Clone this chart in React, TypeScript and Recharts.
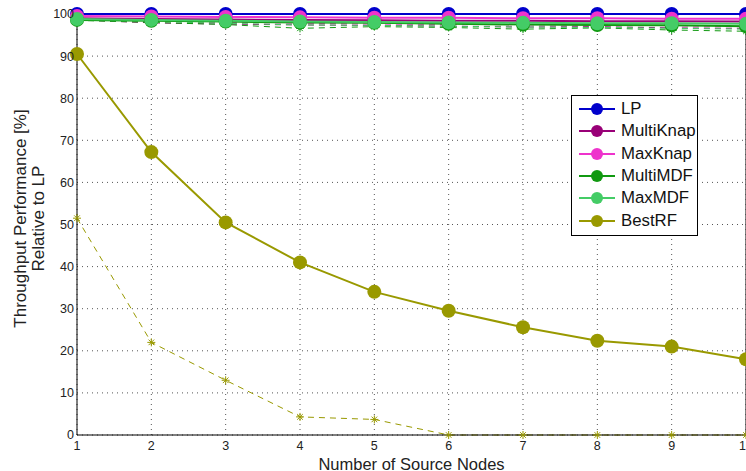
import { CartesianGrid, Line, LineChart, ReferenceLine, XAxis, YAxis } from "recharts";

const nodes = [1, 2, 3, 4, 5, 6, 7, 8, 9, 10];

const lp = [100, 100, 100, 100, 100, 100, 100, 100, 100, 100];
const multiKnap = [99.0, 98.8, 98.7, 98.6, 98.5, 98.4, 98.4, 98.3, 98.3, 98.2];
const maxKnap = [99.5, 99.4, 99.3, 99.2, 99.1, 99.1, 99.0, 99.0, 98.9, 98.9];
const multiMDF = [98.6, 98.4, 98.2, 98.0, 97.9, 97.7, 97.5, 97.4, 97.3, 97.1];
const maxMDF = [98.8, 98.6, 98.4, 98.2, 98.1, 98.0, 97.9, 97.8, 97.8, 97.7];
const bestRF = [90.5, 67.2, 50.5, 41.0, 34.0, 29.5, 25.6, 22.4, 21.0, 18.0];

// dashed variants (star markers)
const multiKnapD = [98.6, 97.9, 97.6, 97.4, 97.3, 97.1, 96.9, 97.0, 96.7, 96.6];
const maxKnapD = [98.7, 98.3, 98.0, 97.8, 97.6, 97.5, 97.4, 97.3, 97.2, 97.0];
const multiMDFD = [98.5, 98.0, 97.5, 96.6, 97.0, 96.8, 96.4, 96.7, 96.2, 95.9];
const maxMDFD = [98.6, 98.2, 97.8, 97.4, 97.3, 97.1, 96.9, 96.8, 96.6, 96.4];
const bestRFD = [51.5, 22.0, 13.0, 4.3, 3.7, 0, 0, 0, 0, 0];

const xTicks = [1, 2, 3, 4, 5, 6, 7, 8, 9, 10];
const yTicks = [0, 10, 20, 30, 40, 50, 60, 70, 80, 90, 100];

const series = [
  { key: "lp", name: "LP", color: "#0000cc", values: lp },
  { key: "multiKnap", name: "MultiKnap", color: "#990077", values: multiKnap },
  { key: "maxKnap", name: "MaxKnap", color: "#ee33cc", values: maxKnap },
  { key: "multiMDF", name: "MultiMDF", color: "#119911", values: multiMDF },
  { key: "maxMDF", name: "MaxMDF", color: "#44cc66", values: maxMDF },
  { key: "bestRF", name: "BestRF", color: "#999900", values: bestRF },
];

const dashed = [
  { key: "multiKnapD", color: "#990077", values: multiKnapD },
  { key: "maxKnapD", color: "#ee33cc", values: maxKnapD },
  { key: "multiMDFD", color: "#119911", values: multiMDFD },
  { key: "maxMDFD", color: "#44cc66", values: maxMDFD },
  { key: "bestRFD", color: "#999900", values: bestRFD },
];

const data = nodes.map((n, i) => {
  const row: Record<string, number> = { n };
  series.forEach((s) => (row[s.key] = s.values[i]));
  dashed.forEach((s) => (row[s.key] = s.values[i]));
  return row;
});

const FONT = "'Liberation Sans', Arial, sans-serif";

function Star(props: any) {
  const { cx, cy, stroke } = props;
  if (cx == null || cy == null) return null;
  const r = 4;
  const d = r * 0.7;
  return (
    <g stroke={stroke} strokeWidth={1}>
      <line x1={cx - r} y1={cy} x2={cx + r} y2={cy} />
      <line x1={cx} y1={cy - r} x2={cx} y2={cy + r} />
      <line x1={cx - d} y1={cy - d} x2={cx + d} y2={cy + d} />
      <line x1={cx - d} y1={cy + d} x2={cx + d} y2={cy - d} />
    </g>
  );
}

function YLabel(props: any) {
  const { viewBox } = props;
  const cy = viewBox.y + viewBox.height / 2 - 6;
  return (
    <g fontFamily={FONT} fontSize={17} fill="#222">
      <text x={26} y={cy} transform={`rotate(-90 26 ${cy})`} textAnchor="middle">
        Throughput Performance [%]
      </text>
      <text x={44} y={cy} transform={`rotate(-90 44 ${cy})`} textAnchor="middle">
        Relative to LP
      </text>
    </g>
  );
}

function XLabel(props: any) {
  const { viewBox } = props;
  const cx = viewBox.x + viewBox.width / 2;
  return (
    <text x={cx} y={469.5} textAnchor="middle" fontFamily={FONT} fontSize={16.5} fill="#222">
      Number of Source Nodes
    </text>
  );
}

function LegendBox() {
  return (
    <div
      style={{
        position: "absolute",
        left: 571,
        top: 95,
        border: "1px solid #000",
        background: "#fff",
        width: 125,
        padding: "2px 0 3px",
        fontFamily: FONT,
        fontSize: 16.8,
        color: "#111",
      }}
    >
      {series.map((s) => (
        <div key={s.key} style={{ display: "flex", alignItems: "center", height: 22.3 }}>
          <svg width={40} height={16} style={{ marginLeft: 5 }}>
            <line x1={2} y1={8} x2={38} y2={8} stroke={s.color} strokeWidth={2} />
            <circle cx={20} cy={8} r={6} fill={s.color} />
          </svg>
          <span style={{ marginLeft: 4, whiteSpace: "nowrap" }}>{s.name}</span>
        </div>
      ))}
    </div>
  );
}

export default function App() {
  return (
    <div style={{ position: "absolute", left: 0, top: 0, width: 746, height: 471, overflow: "hidden", background: "#fff" }}>
      <LineChart
        width={800}
        height={471}
        data={data}
        margin={{ top: 14, right: 54, bottom: 0, left: 0 }}
        style={{ fontFamily: FONT }}
      >
        <CartesianGrid stroke="#555" strokeDasharray="1 4" />
        <XAxis
          dataKey="n"
          type="number"
          domain={[1, 10]}
          ticks={xTicks}
          height={36}
          stroke="#000"
          tickLine={false}
          tickSize={4}
          tick={{ fill: "#222", fontSize: 12.5 }}
          label={<XLabel />}
        />
        <YAxis
          type="number"
          domain={[0, 100]}
          ticks={yTicks}
          width={77}
          stroke="#000"
          tickLine={false}
          tickSize={2}
          tickMargin={1}
          tick={{ fill: "#222", fontSize: 12.5 }}
          label={<YLabel />}
        />
        <ReferenceLine y={100} stroke="#000" strokeWidth={1} />
        <ReferenceLine x={10} stroke="#000" strokeWidth={1} />
        {dashed.map((s) => (
          <Line
            key={s.key}
            dataKey={s.key}
            stroke={s.color}
            strokeWidth={1}
            strokeDasharray="6 5"
            dot={<Star stroke={s.color} />}
            activeDot={false}
            isAnimationActive={false}
            legendType="none"
          />
        ))}
        {series.map((s) => (
          <Line
            key={s.key}
            dataKey={s.key}
            name={s.name}
            stroke={s.color}
            strokeWidth={2}
            dot={{ r: 7, fill: s.color, stroke: s.color, strokeWidth: 0 }}
            activeDot={false}
            isAnimationActive={false}
          />
        ))}
      </LineChart>
      <LegendBox />
    </div>
  );
}
